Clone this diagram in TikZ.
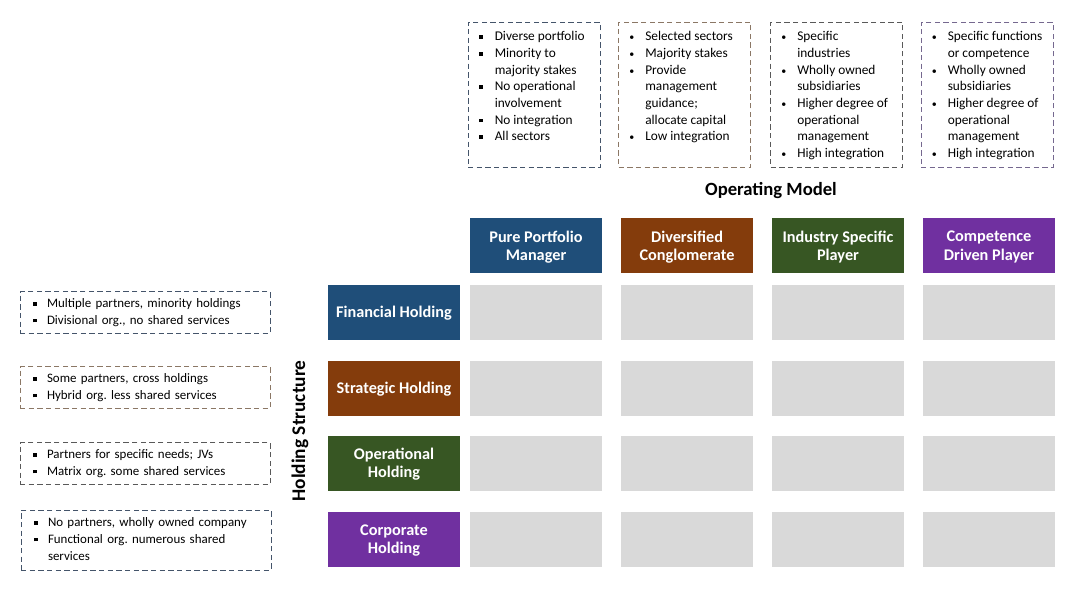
\documentclass[tikz,border=0pt]{standalone}
\usepackage{fontspec}
\setmainfont{Carlito}
\usepackage{tikz}
\usepackage{xcolor}
\usetikzlibrary{positioning}
\definecolor{pfblue}{HTML}{1F4E79}
\definecolor{dcbrown}{HTML}{843C0C}
\definecolor{isgreen}{HTML}{375623}
\definecolor{cdpurple}{HTML}{7030A0}
\definecolor{cellgray}{HTML}{D9D9D9}
\definecolor{lnblue}{HTML}{44546A}
\definecolor{lnbrown}{HTML}{8B7765}
\definecolor{lngray}{HTML}{595959}
\definecolor{lnpurple}{HTML}{75688F}
\newcommand{\sqb}{\raisebox{1.4pt}{\rule{2.8pt}{2.8pt}}}
\newcommand{\rdb}{{\fontsize{7.5}{7.5}\selectfont\textbullet}}
\frenchspacing
\tikzset{
	headbox/.style={fill=#1,text=white,minimum width=99pt,minimum height=41.25pt,align=center,inner sep=0pt,text depth=0pt,font=\bfseries\fontsize{12.2}{13.8}\selectfont},
	cellbox/.style={fill=cellgray,minimum width=99pt,minimum height=41.25pt,inner sep=0pt},
	notebox/.style={draw=#1,line width=0.75pt,dash pattern=on 4pt off 2.5pt,minimum width=99pt,minimum height=108.75pt,inner sep=0pt},
	notetext/.style={inner sep=0pt,font=\fontsize{10}{12.5}\selectfont},
	sidenote/.style={draw=#1,line width=0.75pt,dash pattern=on 4pt off 2.5pt,inner xsep=9.75pt,inner ysep=0pt,text width=168pt,minimum height=31.5pt,font=\fontsize{9.7}{12.5}\selectfont},
}
\begin{document}
\begin{tikzpicture}[x=0.75pt,y=-0.75pt]
	\useasboundingbox (0,0) rectangle (1080,612);
	% operating model notes
	\node[notebox=lnblue] (om1) at (534,94.5) {};
	\node[notetext,below right=5.5pt and 8.25pt of om1.north west] (om1t) {\begin{tabular}{@{}p{12pt}@{}l@{}}
		\sqb & Diverse portfolio\\
		\sqb & Minority to\\
		& majority stakes\\
		\sqb & No operational\\
		& involvement\\
		\sqb & No integration\\
		\sqb & All sectors
	\end{tabular}};
	\node[notebox=lnbrown] (om2) at (684.5,94.5) {};
	\node[notetext,below right=5.5pt and 8.25pt of om2.north west] (om2t) {\begin{tabular}{@{}p{12pt}@{}l@{}}
		\rdb & Selected sectors\\
		\rdb & Majority stakes\\
		\rdb & Provide\\
		& management\\
		& guidance;\\
		& allocate capital\\
		\rdb & Low integration
	\end{tabular}};
	\node[notebox=lngray] (om3) at (836.5,94.5) {};
	\node[notetext,below right=5.5pt and 8.25pt of om3.north west] (om3t) {\begin{tabular}{@{}p{12pt}@{}l@{}}
		\rdb & Specific\\
		& industries\\
		\rdb & Wholly owned\\
		& subsidiaries\\
		\rdb & Higher degree of\\
		& operational\\
		& management\\
		\rdb & High integration
	\end{tabular}};
	\node[notebox=lnpurple] (om4) at (987,94.5) {};
	\node[notetext,below right=5.5pt and 8.25pt of om4.north west] (om4t) {\begin{tabular}{@{}p{12pt}@{}l@{}}
		\rdb & Specific functions\\
		& or competence\\
		\rdb & Wholly owned\\
		& subsidiaries\\
		\rdb & Higher degree of\\
		& operational\\
		& management\\
		\rdb & High integration
	\end{tabular}};
	% axis titles
	\node[font=\bfseries\fontsize{14}{16}\selectfont] (opmodel) at (771,191) {Operating Model};
	\node[rotate=90,font=\bfseries\fontsize{14.5}{17}\selectfont] (holdstruct) at (300,431) {Holding Structure};
	% column heads
	\node[headbox=pfblue] (pure) at (536,245.5) {Pure Portfolio\\Manager};
	\node[headbox=dcbrown] (divers) at (687,245.5) {Diversified\\Conglomerate};
	\node[headbox=isgreen] (indus) at (838,245.5) {Industry Specific\\Player};
	\node[headbox=cdpurple] (compet) at (989,245.5) {Competence\\Driven Player};
	% row heads
	\node[headbox=pfblue] (financial) at (394,312) {Financial Holding};
	\node[headbox=dcbrown] (strategic) at (394,388) {Strategic Holding};
	\node[headbox=isgreen] (operational) at (394,463) {Operational\\Holding};
	\node[headbox=cdpurple] (corporate) at (394,539) {Corporate\\Holding};
	% grid
	\foreach \i/\x in {1/536,2/687,3/838,4/989}
		\foreach \j/\y in {1/312,2/388,3/463,4/539}
			\node[cellbox] (cell\i\j) at (\x,\y) {};
	% holding structure notes
	\node[sidenote=lnblue] (hs1) at (145,312.5) {\begin{tabular}{@{}p{10.5pt}@{}l@{}}
		\sqb & Multiple partners, minority holdings\\
		\sqb & Divisional org., no shared services
	\end{tabular}};
	\node[sidenote=lnbrown] (hs2) at (145,387.5) {\begin{tabular}{@{}p{10.5pt}@{}l@{}}
		\sqb & Some partners, cross holdings\\
		\sqb & Hybrid org. less shared services
	\end{tabular}};
	\node[sidenote=lngray] (hs3) at (145,463.5) {\begin{tabular}{@{}p{10.5pt}@{}l@{}}
		\sqb & Partners for specific needs; JVs\\
		\sqb & Matrix org. some shared services
	\end{tabular}};
	\node[sidenote=lnblue,minimum height=45pt] (hs4) at (146,540) {\begin{tabular}{@{}p{10.5pt}@{}l@{}}
		\sqb & No partners, wholly owned company\\
		\sqb & Functional org. numerous shared\\
		& services
	\end{tabular}};
\end{tikzpicture}
\end{document}
